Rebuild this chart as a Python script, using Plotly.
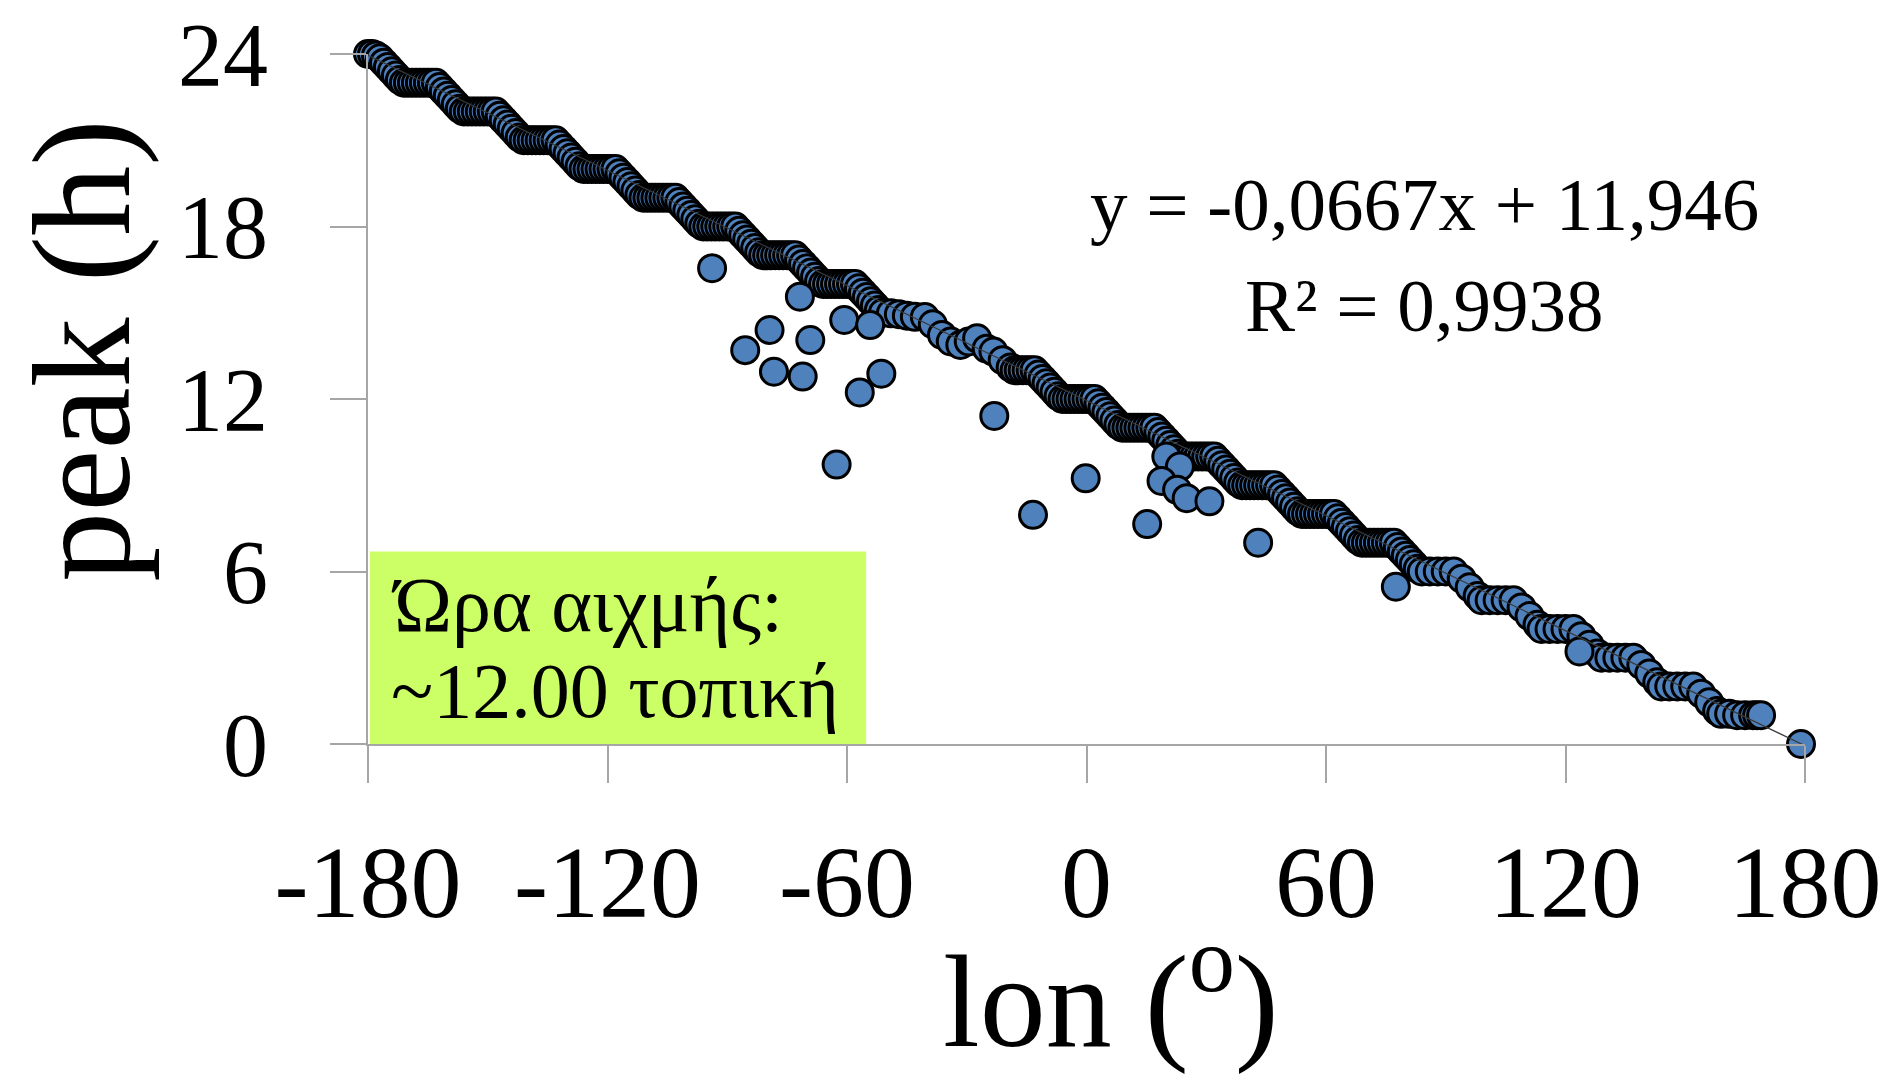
import plotly.graph_objects as go

# ---------------- data ----------------
lon_band = [
    # 24 h
    -180, -179, -178, -177, -176, -175, -174, -173, -172,
    # 23 h
    -171, -170, -169, -168, -167, -166, -165, -164, -163, -162, -161, -160, -159, -158, -157,
    # 22 h
    -156, -155, -154, -153, -152, -151, -150, -149, -148, -147, -146, -145, -144, -143, -142,
    # 21 h
    -141, -140, -139, -138, -137, -136, -135, -134, -133, -132, -131, -130, -129, -128, -127,
    # 20 h
    -126, -125, -124, -123, -122, -121, -120, -119, -118, -117, -116, -115, -114, -113, -112,
    # 19 h
    -111, -110, -109, -108, -107, -106, -105, -104, -103, -102, -101, -100, -99, -98, -97,
    # 18 h
    -96, -95, -94, -93, -92, -91, -90, -89, -88, -87, -86, -85, -84, -83, -82,
    # 17 h
    -81, -80, -79, -78, -77, -76, -75, -74, -73, -72, -71, -70, -69, -68, -67,
    # 16 h
    -66, -65, -64, -63, -62, -61, -60, -59, -58, -57, -56, -55, -54, -53, -52,
    # 15 h
    -51, -49, -47, -45, -43,
    -40.5, -38.5, -36.2, -34, -31.6, -29.5, -27.4, -25, -23.3, -21,
    # 13 h
    -19, -18, -17, -16, -15, -14, -13, -12, -11, -10, -9, -8, -7,
    # 12 h
    -6, -5, -4, -3, -2, -1, 0, 1, 2, 3, 4, 5, 6, 7, 8,
    # 11 h
    9, 10, 11, 12, 13, 14, 15, 16, 17, 18, 19, 20, 21, 22, 23,
    # 10 h
    24, 25, 26, 27, 28, 29, 30, 31, 32, 33, 34, 35, 36, 37, 38,
    # 9 h
    39, 40, 41, 42, 43, 44, 45, 46, 47, 48, 49, 50, 51, 52, 53,
    # 8 h
    54, 55, 56, 57, 58, 59, 60, 61, 62, 63, 64, 65, 66, 67, 68,
    # 7 h
    69, 70, 71, 72, 73, 74, 75, 76, 77, 78, 79, 80, 81, 82, 83,
    # 6 h
    84, 86, 88, 90, 92, 94, 96, 98,
    # 5 h
    99, 101, 103, 105, 107, 109, 111, 113,
    # 4 h
    114, 116, 118, 120, 122, 124, 126, 128,
    # 3 h
    129, 131, 133, 135, 137, 139, 141, 143,
    # 2 h
    144, 146, 148, 150, 152, 154, 156, 158,
    # 1 h
    159, 161, 163, 165, 167, 168, 169,
    # 0 h
    179,
]

peak_band = [
    24.0, 24.0, 23.95, 23.85, 23.7, 23.55, 23.4, 23.25, 23.1,
    23.0, 23.0, 23.0, 23.0, 23.0, 23.0, 23.0, 23.0, 23.0, 22.85, 22.7, 22.55, 22.4, 22.25, 22.1,
    22.0, 22.0, 22.0, 22.0, 22.0, 22.0, 22.0, 22.0, 22.0, 21.85, 21.7, 21.55, 21.4, 21.25, 21.1,
    21.0, 21.0, 21.0, 21.0, 21.0, 21.0, 21.0, 21.0, 21.0, 20.85, 20.7, 20.55, 20.4, 20.25, 20.1,
    20.0, 20.0, 20.0, 20.0, 20.0, 20.0, 20.0, 20.0, 20.0, 19.85, 19.7, 19.55, 19.4, 19.25, 19.1,
    19.0, 19.0, 19.0, 19.0, 19.0, 19.0, 19.0, 19.0, 19.0, 18.85, 18.7, 18.55, 18.4, 18.25, 18.1,
    18.0, 18.0, 18.0, 18.0, 18.0, 18.0, 18.0, 18.0, 18.0, 17.85, 17.7, 17.55, 17.4, 17.25, 17.1,
    17.0, 17.0, 17.0, 17.0, 17.0, 17.0, 17.0, 17.0, 17.0, 16.85, 16.7, 16.55, 16.4, 16.25, 16.1,
    16.0, 16.0, 16.0, 16.0, 16.0, 16.0, 16.0, 16.0, 16.0, 15.85, 15.7, 15.55, 15.4, 15.25, 15.1,
    15.0, 14.98, 14.95, 14.9, 14.86,
    14.85, 14.6, 14.23, 14.0, 13.88, 14.0, 14.11, 13.75, 13.65, 13.35,
    13.1, 13.0, 13.0, 13.0, 13.0, 13.0, 13.0, 12.85, 12.7, 12.55, 12.4, 12.25, 12.1,
    12.0, 12.0, 12.0, 12.0, 12.0, 12.0, 12.0, 12.0, 12.0, 11.85, 11.7, 11.55, 11.4, 11.25, 11.1,
    11.0, 11.0, 11.0, 11.0, 11.0, 11.0, 11.0, 11.0, 11.0, 10.85, 10.7, 10.55, 10.4, 10.25, 10.1,
    10.0, 10.0, 10.0, 10.0, 10.0, 10.0, 10.0, 10.0, 10.0, 9.85, 9.7, 9.55, 9.4, 9.25, 9.1,
    9.0, 9.0, 9.0, 9.0, 9.0, 9.0, 9.0, 9.0, 9.0, 8.85, 8.7, 8.55, 8.4, 8.25, 8.1,
    8.0, 8.0, 8.0, 8.0, 8.0, 8.0, 8.0, 8.0, 8.0, 7.85, 7.7, 7.55, 7.4, 7.25, 7.1,
    7.0, 7.0, 7.0, 7.0, 7.0, 7.0, 7.0, 7.0, 7.0, 6.85, 6.7, 6.55, 6.4, 6.25, 6.1,
    6.0, 6.0, 6.0, 6.0, 6.0, 5.75, 5.45, 5.15,
    5.0, 5.0, 5.0, 5.0, 5.0, 4.75, 4.45, 4.15,
    4.0, 4.0, 4.0, 4.0, 4.0, 3.75, 3.45, 3.15,
    3.0, 3.0, 3.0, 3.0, 3.0, 2.75, 2.45, 2.15,
    2.0, 2.0, 2.0, 2.0, 2.0, 1.75, 1.45, 1.15,
    1.05, 1.05, 1.0, 1.0, 1.0, 1.0, 1.0,
    0.0,
]

lon_out = [-93.8, -71.8, -79.4, -85.5, -69.2, -78.3, -71.1, -60.7, -54.2, -51.4,
           -56.8, -62.6, -23.1, -0.2, -13.4, 15.2, 43.0, 20.0, 23.4, 18.8,
           22.7, 25.1, 30.8, 77.5, 123.5]
peak_out = [16.55, 15.56, 14.4, 13.7, 14.05, 12.95, 12.78, 14.75, 14.57, 12.88,
            12.23, 9.72, 11.41, 9.24, 7.97, 7.65, 7.0, 10.0, 9.65, 9.15,
            8.84, 8.55, 8.44, 5.47, 3.22]

# linear trend shown on the chart
trend_slope = -0.0667
trend_intercept = 11.946
trend_lon = [-180, 180]

x_ticks = [-180, -120, -60, 0, 60, 120, 180]
y_ticks = [0, 6, 12, 18, 24]

x_title = "lon (<sup>o</sup>)"
y_title = "peak (h)"

FONT = "Liberation Serif"
AXIS_GREY = "#a6a6a6"

fig = go.Figure()

fig.add_trace(go.Scatter(
    x=lon_band + lon_out,
    y=peak_band + peak_out,
    mode="markers",
    marker=dict(size=27, color="#4f81bd", line=dict(color="black", width=3)),
    cliponaxis=False,
    showlegend=False,
    name="peak",
))

fig.add_trace(go.Scatter(
    x=trend_lon,
    y=[trend_slope * v + trend_intercept for v in trend_lon],
    mode="lines",
    line=dict(color="#3a3a3a", width=1.2),
    cliponaxis=False,
    showlegend=False,
    name="trend",
))

fig.update_layout(
    width=1883, height=1068,
    margin=dict(l=360, r=86, t=46, b=332),
    paper_bgcolor="white", plot_bgcolor="white",
    font=dict(family=FONT, color="black"),
    xaxis=dict(
        range=[-180, 180], tickvals=x_ticks, ticktext=[str(v) for v in x_ticks],
        showgrid=False, zeroline=False, showline=True, linecolor=AXIS_GREY, linewidth=2,
        ticks="outside", ticklen=37, tickwidth=2, tickcolor=AXIS_GREY,
        tickfont=dict(family=FONT, size=102, color="black"), ticklabelstandoff=12,
        ticklabeloverflow="allow",
        automargin=False,
    ),
    yaxis=dict(
        range=[0, 24], tickvals=y_ticks, ticktext=[str(v) for v in y_ticks],
        showgrid=False, zeroline=False, showline=True, linecolor=AXIS_GREY, linewidth=2,
        ticks="outside", ticklen=36, tickwidth=2, tickcolor=AXIS_GREY,
        tickfont=dict(family=FONT, size=90, color="black"), ticklabelstandoff=44,
        ticklabeloverflow="allow",
        automargin=False,
    ),
    shapes=[dict(
        type="rect", xref="x", yref="y", x0=-179.5, x1=-55.2, y0=0, y1=6.7,
        fillcolor="#ccff66", line=dict(width=0), layer="below",
    )],
    annotations=[
        # axis titles
        dict(text=x_title, xref="paper", yref="paper", x=0.517, y=-0.36,
             xanchor="center", yanchor="middle", showarrow=False,
             font=dict(family=FONT, size=132, color="black")),
        dict(text=y_title, xref="paper", yref="paper", x=-0.199, y=0.57,
             xanchor="center", yanchor="middle", showarrow=False, textangle=-90,
             font=dict(family=FONT, size=140, color="black")),
        # regression
        dict(text="y = -0,0667x + 11,946", xref="paper", yref="paper", x=0.735, y=0.782,
             xanchor="center", yanchor="middle", showarrow=False,
             font=dict(family=FONT, size=75, color="black")),
        dict(text="R² = 0,9938", xref="paper", yref="paper", x=0.735, y=0.636,
             xanchor="center", yanchor="middle", showarrow=False,
             font=dict(family=FONT, size=75, color="black")),
        # boxed note
        dict(text="Ώρα αιχμής:", xref="x", yref="y", x=-174.8, y=4.85,
             xanchor="left", yanchor="middle", showarrow=False,
             font=dict(family=FONT, size=78, color="black")),
        dict(text="~12.00 τοπική", xref="x", yref="y", x=-174.8, y=1.85,
             xanchor="left", yanchor="middle", showarrow=False,
             font=dict(family=FONT, size=78, color="black")),
    ],
)

fig.write_html("out.html")
